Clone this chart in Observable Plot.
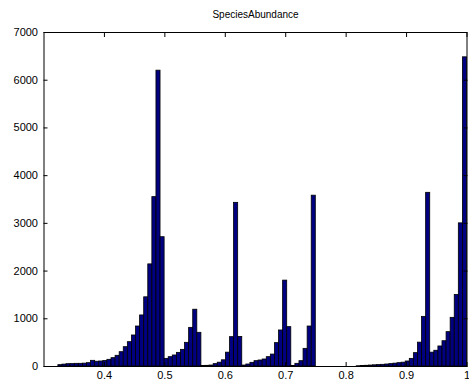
<!DOCTYPE html>
<html>
<head>
<meta charset="utf-8">
<script src="https://cdn.jsdelivr.net/npm/d3@7"></script>
<script src="https://cdn.jsdelivr.net/npm/@observablehq/plot@0.6"></script>
<style>
  html, body { margin: 0; padding: 0; background: #fff; }
  #chart svg { display: block; }
</style>
</head>
<body>
<div id="chart"></div>
<script>
// Histogram of species abundance: 100 equal-width bins from binMin to binMax
const title = "SpeciesAbundance";
const binMin = 0.3238;
const binMax = 1.0;
const counts = [
  28, 40, 49, 50, 56, 56, 60, 70, 119, 100,
  105, 115, 140, 175, 224, 300, 405, 510, 650, 838,
  1070, 1450, 2140, 3550, 6200, 2710, 160, 196, 231, 286,
  349, 496, 810, 1190, 706, 10, 14, 20, 50, 80,
  130, 290, 615, 3430, 620, 20, 42, 77, 112, 126,
  147, 196, 250, 490, 755, 1800, 825, 10, 56, 112,
  370, 838, 3580, 0, 0, 0, 0, 0, 0, 0,
  0, 0, 0, 5, 10, 15, 20, 25, 30, 35,
  42, 50, 60, 70, 80, 105, 160, 280, 500, 1040,
  3640, 290, 330, 420, 530, 720, 1020, 1500, 3000, 6480
];
const xTicks = [0.4, 0.5, 0.6, 0.7, 0.8, 0.9, 1];
const xTickLabels = ["0.4", "0.5", "0.6", "0.7", "0.8", "0.9", "1"];
const yTicks = [0, 1000, 2000, 3000, 4000, 5000, 6000, 7000];

const binWidth = (binMax - binMin) / counts.length;
const bins = counts.map((count, i) => ({
  x1: binMin + i * binWidth,
  x2: binMin + (i + 1) * binWidth,
  count
}));

const font = "'Liberation Sans', Arial, Helvetica, sans-serif";
const tickLen = -4; // inward ticks

const chart = Plot.plot({
  width: 469,
  height: 384,
  marginLeft: 43.5,
  marginRight: 2.5,
  marginTop: 32,
  marginBottom: 18,
  style: {fontFamily: font, fontSize: "11px", color: "#000", background: "#fff"},
  x: {domain: [0.3, 1], ticks: xTicks},
  y: {domain: [0, 7000], ticks: yTicks},
  marks: [
    Plot.rectY(bins, {
      x1: "x1", x2: "x2", y: "count",
      fill: "#000080", stroke: "#000", strokeWidth: 0.8,
      insetLeft: 0, insetRight: 0
    }),
    Plot.frame({stroke: "#000", strokeWidth: 1}),
    // inward ticks on all four sides
    Plot.axisX(xTicks, {anchor: "bottom", tickSize: tickLen, text: null, label: null}),
    Plot.axisX(xTicks, {anchor: "top", tickSize: tickLen, text: null, label: null}),
    Plot.axisY(yTicks, {anchor: "left", tickSize: tickLen, text: null, label: null}),
    Plot.axisY(yTicks, {anchor: "right", tickSize: tickLen, text: null, label: null}),
    // tick labels
    Plot.axisX(xTicks, {anchor: "bottom", tickSize: 0, tickPadding: 5, label: null,
      tickFormat: (d) => xTickLabels[xTicks.indexOf(d)], fontSize: 11}),
    Plot.axisY(yTicks, {anchor: "left", tickSize: 0, tickPadding: 6, label: null,
      tickFormat: (d) => String(d), fontSize: 11}),
    Plot.text([title], {
      frameAnchor: "top", dy: -18, text: (d) => d,
      fontSize: 10, fill: "#000", lineAnchor: "middle"
    })
  ]
});

document.getElementById("chart").appendChild(chart);
</script>
</body>
</html>
